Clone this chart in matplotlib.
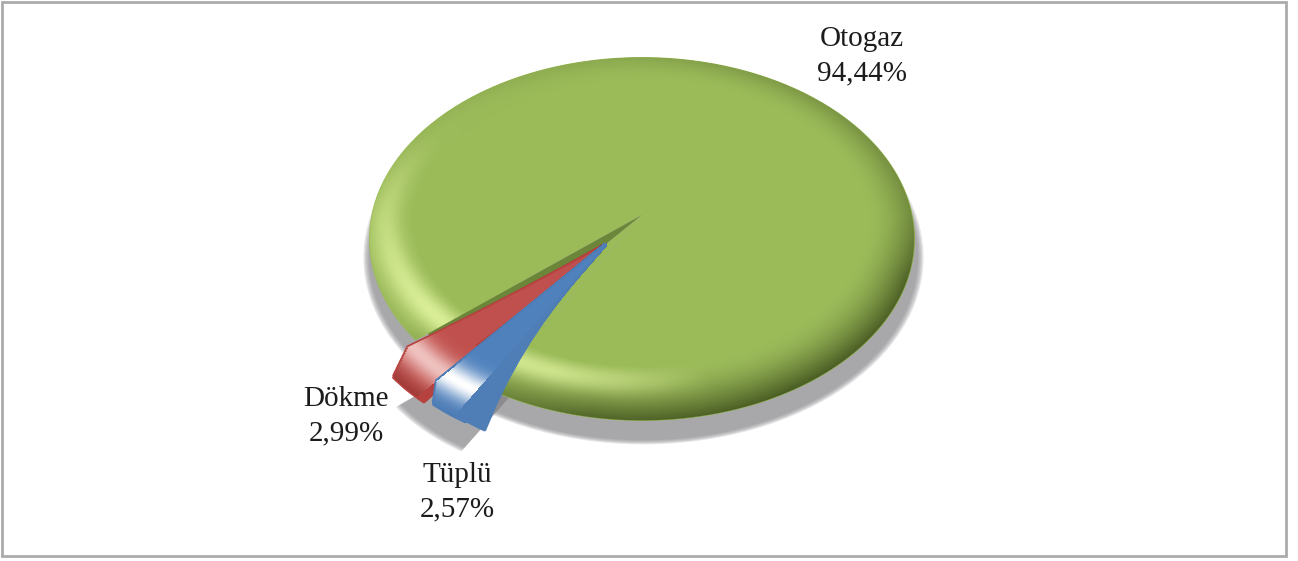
import numpy as np
import matplotlib
matplotlib.use("Agg")
import matplotlib.pyplot as plt
from matplotlib.patches import Rectangle
from matplotlib.path import Path
from matplotlib.transforms import Affine2D, Transform
from matplotlib.colors import to_rgb

# ---- data ----
categories = ["Otogaz", "Dökme", "Tüplü"]
shares = [94.44, 2.99, 2.57]
slice_colors = ["#9BBB59", "#C0504D", "#4F81BD"]
label_centers = [(862, 56), (346, 416), (457, 492)]

W, H = 1298, 561
START = 240
CX, CY = 642.0, 215.0
A, B, C = 178.8, 0.132, 270.6
PULL = (-0.134, -0.164)
SMALL_R = 0.86


class Perspective(Transform):
    """Unit-circle pie -> tilted view, with an optional outward swell of the slice tip."""
    input_dims = output_dims = 2
    is_separable = False

    def __init__(self, dx=0.0, dy=0.0, s=1.0, swell=(0.0, 0.0), power=2.0):
        super().__init__()
        self.dx, self.dy, self.s, self.swell, self.power = dx, dy, s, swell, power

    def transform_non_affine(self, v):
        v = np.asarray(v, float)
        den = 1 + B * v[:, 1]
        px = C * v[:, 0] / den
        py = -A * v[:, 1] / den
        f = np.clip(np.hypot(v[:, 0] - PULL[0], v[:, 1] - PULL[1]) / SMALL_R, 0, 1) ** self.power
        return np.column_stack([CX + self.dx + self.s * px + self.swell[0] * f,
                                CY + self.dy + self.s * py + self.swell[1] * f])

    def transform_path_non_affine(self, path):
        polys = path.transformed(Affine2D().scale(400)).to_polygons(closed_only=False)
        out = []
        for poly in polys:
            poly = poly / 400
            n = len(poly)
            idx = np.linspace(0, n - 1, (n - 1) * 10 + 1)
            dense = np.column_stack([np.interp(idx, np.arange(n), poly[:, 0]),
                                     np.interp(idx, np.arange(n), poly[:, 1])])
            out.append(Path(self.transform_non_affine(dense), closed=False))
        return Path.make_compound_path(*out)


def unproject(px, py):
    X, Y = px - CX, CY - py
    y = Y / (A - B * Y)
    return X * (1 + B * y) / C, y


fig = plt.figure(figsize=(W / 100, H / 100), dpi=100)
ax = fig.add_axes([0, 0, 1, 1])


def pie(colors, radius=1.0, center=(0, 0), warp=None, z=2, alpha=None, edge=0.0):
    wedges, _ = ax.pie(shares, colors=colors, radius=radius, center=center, startangle=START,
                       wedgeprops=dict(linewidth=0, alpha=alpha))
    for w in wedges:
        w.set_transform((warp if warp is not None else Perspective()) + ax.transData)
        w.set_zorder(z)
        if edge:
            w.set_edgecolor(w.get_facecolor())
            w.set_linewidth(edge)
            w.set_joinstyle("round")
    return wedges


# soft drop shadow
grey = "#808084"
for s in [1.026, 1.021, 1.016, 1.011, 1.006]:
    pie([grey] * 3, warp=Perspective(1.5, 18, s), z=1, alpha=.2)
    pie(["none", grey, grey], radius=SMALL_R, center=PULL,
        warp=Perspective(2, 42, s, swell=(-5, 5)), z=1, alpha=.2)

# main slice with bevel shading
pie([slice_colors[0], "none", "none"], z=2)
gx, gy = np.meshgrid(np.arange(W) + .5, np.arange(H) + .5)
ux, uy = unproject(gx, gy)
r = np.hypot(ux, uy)
th = np.degrees(np.arctan2(uy, ux)) % 360
low = np.clip(-np.sin(np.radians(th)), 0, 1)
angles = [0, 30, 60, 90, 120, 150, 180, 215, 235, 260, 300, 340, 360]
dark_k = [.45, .38, .3, .2, .12, .06, .0, .06, .35, .8, .9, .85, .45]
hi_ang = [0, 120, 150, 180, 215, 250, 265, 285, 360]
hi_k = [0, 0, .05, .5, 1.0, 1.0, .7, .06, 0]
D = np.interp(th, angles, dark_k)
Hh = np.interp(th, hi_ang, hi_k)
w = .16 + .08 * low
t = np.clip((1 - r) / w, 0, 1)
peak = .35 + .45 * low
base = np.array(to_rgb(slice_colors[0]))
darkc = np.array(to_rgb("#3E4F1C"))
hic = np.array(to_rgb("#E2F5A0"))
dk = (D * (1 - t) ** 1.6)[..., None]
hl = (Hh * np.exp(-((t - peak) / (.4 - .1 * low)) ** 2) * (1 - t ** 4))[..., None]
rgb = base * (1 - dk) + darkc * dk
rgb = rgb * (1 - hl) + hic * hl
a0 = START - 20
a1 = a0 + shares[1] * 3.6
a2 = a1 + shares[2] * 3.6
al = np.clip((1 - r) * 200, 0, 1) * (r > .6) * (~((th > a0) & (th < a2)))
ax.imshow(np.dstack([np.clip(rgb, 0, 1), al]), extent=(0, W, H, 0), aspect="auto",
          interpolation="bilinear", zorder=3)

# inner wall seen behind the pulled-out slices
pie(["none", "#6B8539", slice_colors[0]], radius=.95, z=4)

# pulled-out slices: extruded body, top face, rim highlight
steps = 24
settings = [
    dict(idx=1, color=slice_colors[1], body="#B5423F", dark="#9A3633", hi="#EFC2BF",
         top=(2, -9), tips=[(-12, 20)], power=2.0, span=(a0 - 4, a1), z=5),
    dict(idx=2, color=slice_colors[2], body="#4F7DB6", dark="#4A78B0", hi="#FFFFFF",
         top=(0, 0), tips=[(-3, 22), (16, 30)], power=3.0, span=(a1, a2), z=7),
]
rx, ry = ux - PULL[0], uy - PULL[1]
rr = np.hypot(rx, ry)
tt = np.degrees(np.arctan2(ry, rx)) % 360
for st in settings:
    mask3 = ["none"] * 3
    body = list(mask3); body[st["idx"]] = st["body"]
    topc = list(mask3); topc[st["idx"]] = st["color"]
    outlines = []
    for tip in st["tips"]:
        for k in range(steps, -1, -1):
            f = k / steps
            sw = (st["top"][0] + f * (tip[0] - st["top"][0]),
                  st["top"][1] + f * (tip[1] - st["top"][1]))
            warp = Perspective(swell=sw, power=st["power"])
            wd = pie(body, radius=SMALL_R, center=PULL, warp=warp,
                     z=st["z"] + (steps - k) * .01, edge=2.5)
            if k % 2 == 0:
                outlines.append(warp.transform_path(wd[st["idx"]].get_path()))
    pie(topc, radius=SMALL_R, center=PULL, warp=Perspective(swell=st["top"], power=st["power"]),
        z=st["z"] + .5)
    comp = Path.make_compound_path(*outlines)
    b = np.array(to_rgb(st["color"]))
    dc = np.array(to_rgb(st["dark"]))
    hc = np.array(to_rgb(st["hi"]))
    hl2 = np.exp(-((rr - .815) / .06) ** 2)[..., None]
    dk2 = np.clip((rr - .87) / .09, 0, 1)[..., None]
    col = b * (1 - dk2) + dc * dk2
    col = col * (1 - hl2) + hc * hl2
    alpha = ((tt >= st["span"][0]) & (tt < st["span"][1]) & (rr > .66)) * 1.0
    im = ax.imshow(np.dstack([np.clip(col, 0, 1), alpha]), extent=(0, W, H, 0), aspect="auto",
                   interpolation="bilinear", zorder=st["z"] + .8)
    im.set_clip_path(comp, transform=ax.transData)

# labels
for name, v, (lx, ly) in zip(categories, shares, label_centers):
    ax.text(lx, ly, f"{name}\n{v:.2f}%".replace(".", ","), ha="center", va="center",
            family="Liberation Serif", fontsize=21, color="#1c1c1c", linespacing=1.42, zorder=10)

# outer frame
ax.add_patch(Rectangle((2, 2), 1284, 554, fill=False, ec="#ABABAB", lw=2, zorder=11))

ax.set_aspect("auto")
ax.set_xlim(0, W)
ax.set_ylim(H, 0)
ax.axis("off")
fig.savefig("out.png", dpi=100, facecolor="white")
